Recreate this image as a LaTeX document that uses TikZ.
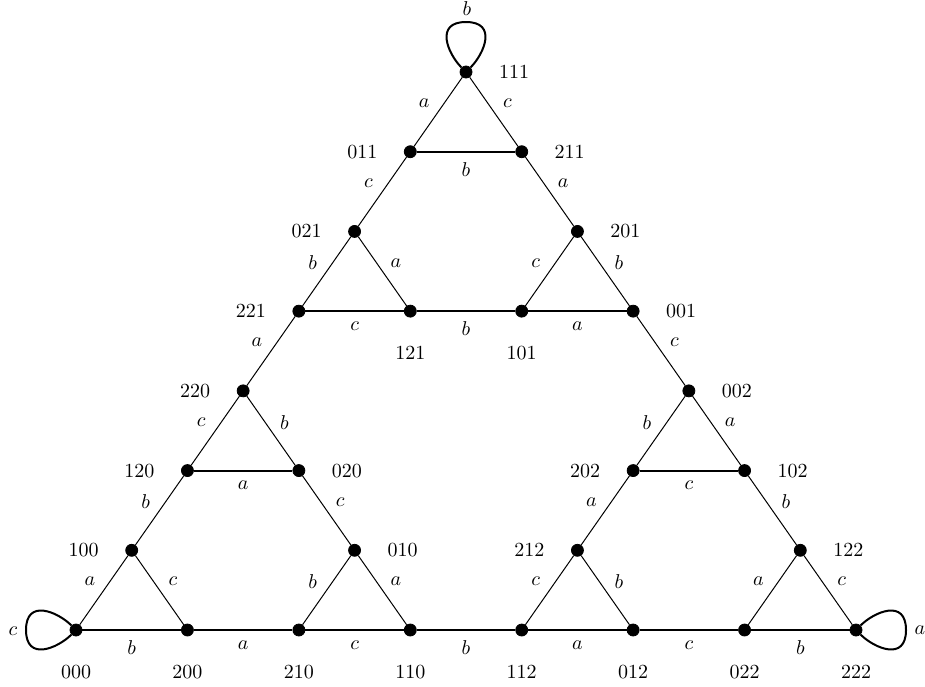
\documentclass[tikz,border=0pt]{standalone}
\begin{document}
\begin{tikzpicture}[x=0.5pt,y=-0.5pt,
  v/.style={circle,fill=black,draw=black,inner sep=0pt,minimum size=6pt},
  lr/.style={label={[xshift=24pt]center:#1}},
  ll/.style={label={[xshift=-24pt]center:#1}},
  lb/.style={label={[yshift=-21pt]center:#1}},
  thin edge/.style={line width=0.5pt},
  thick edge/.style={line width=1pt},
  el/.style={midway,anchor=center,xshift=-7pt,yshift=4.25pt},
  er/.style={midway,anchor=center,xshift=6.75pt,yshift=4.25pt},
  eh/.style={midway,below=1.5pt}]
\useasboundingbox (0,0) rectangle (925,686);
% row 0
\node[v,lb=000] (n000) at (76,630) {};
\node[v,lb=200] (n200) at (187.43,630) {};
\node[v,lb=210] (n210) at (298.86,630) {};
\node[v,lb=110] (n110) at (410.29,630) {};
\node[v,lb=112] (n112) at (521.71,630) {};
\node[v,lb=012] (n012) at (633.14,630) {};
\node[v,lb=022] (n022) at (744.57,630) {};
\node[v,lb=222] (n222) at (856,630) {};
% row 1
\node[v,ll=100] (n100) at (131.71,550.29) {};
\node[v,lr=010] (n010) at (354.57,550.29) {};
\node[v,ll=212] (n212) at (577.43,550.29) {};
\node[v,lr=122] (n122) at (800.29,550.29) {};
% row 2
\node[v,ll=120] (n120) at (187.43,470.57) {};
\node[v,lr=020] (n020) at (298.86,470.57) {};
\node[v,ll=202] (n202) at (633.14,470.57) {};
\node[v,lr=102] (n102) at (744.57,470.57) {};
% row 3
\node[v,ll=220] (n220) at (243.14,390.86) {};
\node[v,lr=002] (n002) at (688.86,390.86) {};
% row 4
\node[v,ll=221] (n221) at (298.86,311.14) {};
\node[v,lb=121] (n121) at (410.29,311.14) {};
\node[v,lb=101] (n101) at (521.71,311.14) {};
\node[v,lr=001] (n001) at (633.14,311.14) {};
% row 5
\node[v,ll=021] (n021) at (354.57,231.43) {};
\node[v,lr=201] (n201) at (577.43,231.43) {};
% row 6
\node[v,ll=011] (n011) at (410.29,151.71) {};
\node[v,lr=211] (n211) at (521.71,151.71) {};
% row 7
\node[v,lr=111] (n111) at (466,72) {};

% horizontal edges
\draw[thick edge] (n000) -- node[eh]{$b$} (n200);
\draw[thick edge] (n200) -- node[eh]{$a$} (n210);
\draw[thick edge] (n210) -- node[eh]{$c$} (n110);
\draw[thick edge] (n110) -- node[eh]{$b$} (n112);
\draw[thick edge] (n112) -- node[eh]{$a$} (n012);
\draw[thick edge] (n012) -- node[eh]{$c$} (n022);
\draw[thick edge] (n022) -- node[eh]{$b$} (n222);
\draw[thick edge] (n120) -- node[eh]{$a$} (n020);
\draw[thick edge] (n202) -- node[eh]{$c$} (n102);
\draw[thick edge] (n221) -- node[eh]{$c$} (n121);
\draw[thick edge] (n121) -- node[eh]{$b$} (n101);
\draw[thick edge] (n101) -- node[eh]{$a$} (n001);
\draw[thick edge] (n011) -- node[eh]{$b$} (n211);

% left-leaning edges (label up-left)
\draw[thin edge] (n100) -- node[el]{$a$} (n000);
\draw[thin edge] (n120) -- node[el]{$b$} (n100);
\draw[thin edge] (n220) -- node[el]{$c$} (n120);
\draw[thin edge] (n221) -- node[el]{$a$} (n220);
\draw[thin edge] (n021) -- node[el]{$b$} (n221);
\draw[thin edge] (n011) -- node[el]{$c$} (n021);
\draw[thin edge] (n111) -- node[el]{$a$} (n011);
\draw[thin edge] (n010) -- node[el]{$b$} (n210);
\draw[thin edge] (n212) -- node[el]{$c$} (n112);
\draw[thin edge] (n202) -- node[el]{$a$} (n212);
\draw[thin edge] (n002) -- node[el]{$b$} (n202);
\draw[thin edge] (n122) -- node[el]{$a$} (n022);
\draw[thin edge] (n201) -- node[el]{$c$} (n101);

% right-leaning edges (label up-right)
\draw[thin edge] (n100) -- node[er]{$c$} (n200);
\draw[thin edge] (n220) -- node[er]{$b$} (n020);
\draw[thin edge] (n020) -- node[er]{$c$} (n010);
\draw[thin edge] (n010) -- node[er]{$a$} (n110);
\draw[thin edge] (n021) -- node[er]{$a$} (n121);
\draw[thin edge] (n111) -- node[er]{$c$} (n211);
\draw[thin edge] (n211) -- node[er]{$a$} (n201);
\draw[thin edge] (n201) -- node[er]{$b$} (n001);
\draw[thin edge] (n001) -- node[er]{$c$} (n002);
\draw[thin edge] (n002) -- node[er]{$a$} (n102);
\draw[thin edge] (n102) -- node[er]{$b$} (n122);
\draw[thin edge] (n122) -- node[er]{$c$} (n222);
\draw[thin edge] (n212) -- node[er]{$b$} (n012);

% loops
\draw[thick edge] (n111) .. controls (448,54) and (434,22) .. (466,22)
  .. controls (498,22) and (484,54) .. (n111);
\node (lb111) at (467,9) {$b$};
\draw[thick edge] (n000) .. controls (58,612) and (26,598) .. (26,630)
  .. controls (26,662) and (58,648) .. (n000);
\node (lc000) at (13,631) {$c$};
\draw[thick edge] (n222) .. controls (874,612) and (906,598) .. (906,630)
  .. controls (906,662) and (874,648) .. (n222);
\node (la222) at (920,630) {$a$};
\end{tikzpicture}
\end{document}
